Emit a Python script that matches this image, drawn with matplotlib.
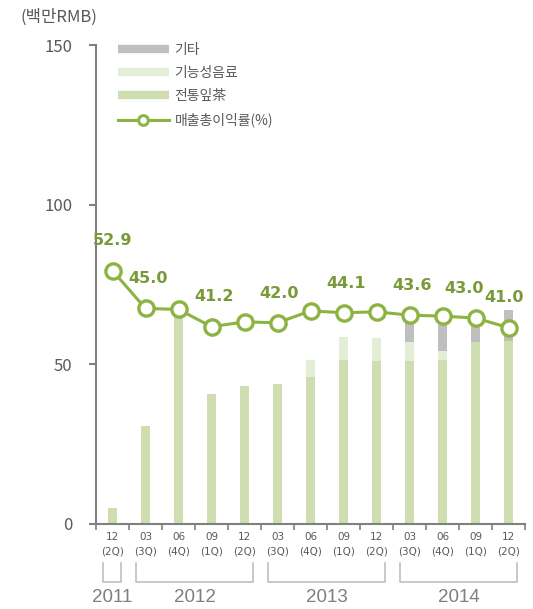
import matplotlib
matplotlib.use("Agg")
import matplotlib.pyplot as plt
from matplotlib.lines import Line2D
from matplotlib import font_manager
import numpy as np

plt.rcParams['font.family'] = ['Noto Sans CJK KR', 'DejaVu Sans']

months = ["12", "03", "06", "09", "12", "03", "06", "09", "12", "03", "06", "09", "12"]
quarters = ["(2Q)", "(3Q)", "(4Q)", "(1Q)", "(2Q)", "(3Q)", "(4Q)", "(1Q)", "(2Q)", "(3Q)", "(4Q)", "(1Q)", "(2Q)"]
traditional = [5.0, 30.7, 66.0, 40.8, 43.2, 43.9, 46.1, 51.4, 51.1, 51.1, 51.4, 57.1, 57.4]
functional = [0, 0, 0, 0, 0, 0, 5.3, 7.2, 7.2, 6.0, 2.8, 0, 0]
other = [0, 0, 0, 0, 0, 0, 0, 0, 0, 5.9, 8.8, 4.9, 9.7]
margin = [52.9, 45.0, 44.8, 41.2, 42.2, 42.0, 44.5, 44.1, 44.3, 43.6, 43.4, 43.0, 41.0]
label_idx = [0, 1, 3, 5, 7, 9, 11, 12]
years = ["2011", "2012", "2013", "2014"]
year_spans = [(0, 0), (1, 4), (5, 8), (9, 12)]
legend_labels = ["기타", "기능성음료", "전통잎茶", "매출총이익률(%)"]

c_trad = "#cfdeb0"
c_func = "#e4edd5"
c_other = "#bfbfbf"
c_line = "#8db443"
c_lbl = "#799a38"
c_axis = "#808080"
c_text = "#595959"

names = {f.name for f in font_manager.fontManager.ttflist}
if "Liberation Sans Narrow" in names:
    year_font = dict(family=['Liberation Sans Narrow'], fontsize=15)
else:
    year_font = dict(family=['Liberation Sans'], fontsize=13.5)

fig = plt.figure(figsize=(5.33, 6.09), dpi=100)
ax = fig.add_axes([96/533, 1-524/609, (525-96)/533, (524-45)/609])
x = np.arange(len(months))
w = 0.25
trad = np.array(traditional); func = np.array(functional); oth = np.array(other)
ax.bar(x, trad, w, color=c_trad, zorder=2)
ax.bar(x, func, w, bottom=trad, color=c_func, zorder=2)
ax.bar(x, oth, w, bottom=trad+func, color=c_other, zorder=2)

ax.set_xlim(-0.5, 12.5)
ax.set_ylim(0, 150)
ax.set_yticks([0, 50, 100, 150])
ax.tick_params(axis='y', colors=c_axis, length=5, width=1.5, pad=12, labelsize=12, labelcolor=c_text)
for s in ["top", "right"]:
    ax.spines[s].set_visible(False)
for s in ["left", "bottom"]:
    ax.spines[s].set_color(c_axis)
    ax.spines[s].set_linewidth(1.5)
ax.set_xticks(np.arange(-0.5, 13, 1))
ax.set_xticklabels([])
ax.tick_params(axis='x', which='major', colors=c_axis, length=4, width=1.2)
ax.set_xticks(x, minor=True)
ax.set_xticklabels([f"{m}\n{q}" for m, q in zip(months, quarters)], minor=True,
                   fontsize=7.5, color=c_text, linespacing=1.5)
ax.tick_params(axis='x', which='minor', length=0, pad=6)
for lab in ax.get_xticklabels(minor=True):
    lab.set_family(['DejaVu Sans'])

ax2 = ax.twinx()
ax2.set_position(ax.get_position())
ax2.set_ylim(0, 100)
ax2.axis('off')
ax2.plot(x, margin, color=c_line, lw=2.2, marker='o', ms=11, mfc='white', mec=c_line, mew=2.4, zorder=5, clip_on=False)
label_dx = {0: 0, 1: 2, 3: 2, 5: 1, 7: 2, 9: 2, 11: -8, 12: -3}
for i in label_idx:
    ax2.annotate(f"{margin[i]:.1f}", (x[i], margin[i]), xytext=(label_dx[i], 16), textcoords='offset points',
                 ha='center', va='bottom', fontsize=11.5, fontweight='bold', color=c_lbl,
                 family=['DejaVu Sans'])

# legend
handles = [Line2D([], [], color=c_other, lw=6, solid_capstyle='butt'),
           Line2D([], [], color=c_func, lw=6, solid_capstyle='butt'),
           Line2D([], [], color=c_trad, lw=6, solid_capstyle='butt'),
           Line2D([], [], color=c_line, lw=2.2, marker='o', ms=7, mfc='white', mec=c_line, mew=2.2)]
leg = ax.legend(handles, legend_labels, loc='upper left', bbox_to_anchor=(0.021, 1.031), frameon=False,
                fontsize=10, handlelength=3.7, handletextpad=0.4, labelspacing=0.67, labelcolor=c_text)

fig.text(20/533, 1-17/609, "(백만RMB)", fontsize=12, color=c_text, ha='left', va='center')

# year brackets
trans = ax.get_xaxis_transform()
yb_top, yb_bot = -0.082, -0.122
for (a, b), yr in zip(year_spans, years):
    x0, x1 = a - 0.3, b + 0.27
    ax.plot([x0, x0, x1, x1], [yb_top, yb_bot, yb_bot, yb_top], transform=trans, color="#bfbfbf",
            lw=1.2, clip_on=False)
    ax.text((a + b) / 2, -0.153, yr, transform=trans, ha='center', va='center',
            color="#7f7f7f", **year_font)

fig.savefig("out.png", dpi=100)
